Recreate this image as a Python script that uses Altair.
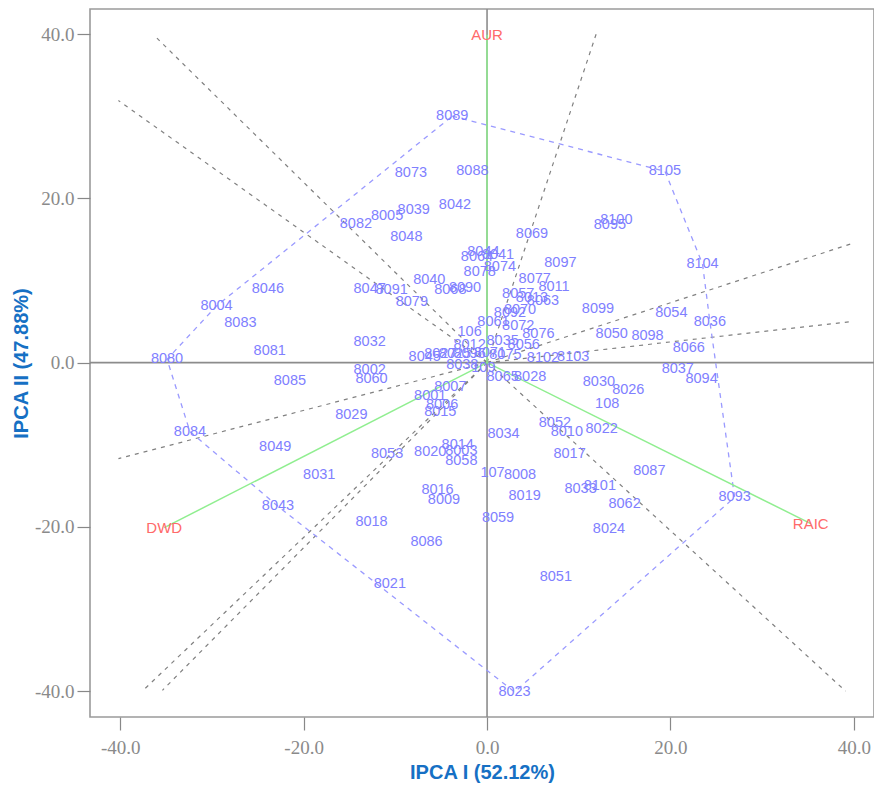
import altair as alt
import pandas as pd

# ---------------- data ----------------
gen_names = [
    "8089", "8073", "8088", "8039", "8042", "8005", "8082", "8048", "8069", "8097",
    "8044", "8064", "8041", "8078", "8074", "8077", "8011", "8040", "8047", "8091",
    "8068", "8090", "8079", "8057", "8063", "8013", "8070", "8092", "8061", "8072",
    "8076", "106", "8032", "8012", "8035", "8056", "8045", "8027", "8025", "8096",
    "8071", "8075", "8038", "109", "8102", "8103", "8002", "8060", "8007", "8001",
    "8006", "8015", "8029", "8065", "8028", "8034", "8052", "8010", "8053", "8020",
    "8014", "8003", "8058", "8017", "107", "8008", "8016", "8009", "8019", "8059",
    "8018", "8086", "8050", "8098", "8066", "8037", "8094", "8030", "8026", "108",
    "8022", "8087", "8033", "8101", "8062", "8024", "8093", "8105", "8100", "8095",
    "8104", "8099", "8054", "8036", "8046", "8004", "8083", "8081", "8080", "8085",
    "8084", "8049", "8031", "8043", "8021", "8051", "8023",
]
gen_x = [
    -3.8, -8.3, -1.6, -8.0, -3.5, -10.9, -14.3, -8.8, 4.9, 8.0,
    -0.4, -1.1, 1.2, -0.8, 1.4, 5.2, 7.3, -6.3, -12.8, -10.4,
    -4.0, -2.4, -8.2, 3.4, 6.1, 4.9, 3.6, 2.5, 0.7, 3.4,
    5.6, -1.9, -12.8, -1.9, 1.7, 4.0, -6.8, -5.1, -3.5, -1.9,
    0.3, 2.0, -2.7, -0.4, 6.1, 9.4, -12.8, -12.6, -4.0, -6.2,
    -4.9, -5.1, -14.8, 1.7, 4.7, 1.8, 7.4, 8.7, -10.9, -6.2,
    -3.2, -2.8, -2.8, 9.0, 0.6, 3.6, -5.4, -4.7, 4.1, 1.2,
    -12.6, -6.6, 13.6, 17.5, 22.0, 20.8, 23.4, 12.2, 15.4, 13.1,
    12.5, 17.7, 10.2, 12.3, 15.0, 13.3, 27.0, 19.4, 14.1, 13.4,
    23.5, 12.1, 20.1, 24.3, -23.9, -29.5, -26.9, -23.7, -34.9, -21.5,
    -32.4, -23.1, -18.3, -22.8, -10.6, 7.5, 3.0,
]
gen_y = [
    30.0, 23.1, 23.3, 18.6, 19.2, 17.9, 16.9, 15.3, 15.7, 12.1,
    13.5, 12.9, 13.1, 11.0, 11.6, 10.2, 9.2, 10.1, 9.0, 8.8,
    8.8, 9.1, 7.4, 8.4, 7.5, 7.9, 6.4, 6.0, 5.0, 4.5,
    3.5, 3.7, 2.5, 2.2, 2.6, 2.2, 0.7, 1.1, 1.0, 1.1,
    1.2, 0.9, -0.25, -0.6, 0.6, 0.7, -0.85, -2.0, -3.0, -4.1,
    -5.2, -6.0, -6.4, -1.8, -1.8, -8.7, -7.4, -8.4, -11.1, -10.9,
    -10.0, -10.8, -12.0, -11.1, -13.5, -13.7, -15.5, -16.7, -16.3, -18.9,
    -19.4, -21.8, 3.5, 3.2, 1.8, -0.8, -2.0, -2.4, -3.3, -5.0,
    -8.1, -13.2, -15.4, -15.0, -17.2, -20.2, -16.4, 23.3, 17.3, 16.8,
    12.0, 6.5, 6.0, 5.0, 8.9, 6.9, 4.8, 1.4, 0.4, -2.3,
    -8.4, -10.3, -13.7, -17.5, -26.9, -26.1, -40.1,
]

env_names = ["AUR", "DWD", "RAIC"]
env_x = [0.0, -35.2, 35.3]
env_y = [39.9, -20.1, -19.6]

# vertices of the dashed polygon (genotypes, in drawing order)
hull_ids = ["8089", "8105", "8104", "8036", "8093", "8023", "8043", "8084", "8080", "8004"]

# ends of the grey dashed rays from the origin
ray_x = [-36.0, -40.2, 11.9, 39.8, 39.8, 39.1, -37.5, -35.4, -40.2]
ray_y = [39.5, 31.9, 40.0, 14.5, 5.0, -40.0, -39.9, -39.9, -11.7]

tick_values = [-40, -20, 0, 20, 40]

# ---------------- tables ----------------
gen = pd.DataFrame({"name": gen_names, "x": gen_x, "y": gen_y})
env = pd.DataFrame({"name": env_names, "x": env_x, "y": env_y,
                    "x0": [0.0] * len(env_names), "y0": [0.0] * len(env_names)})
lookup = {n: (a, b) for n, a, b in zip(gen_names, gen_x, gen_y)}
hull_pts = hull_ids + [hull_ids[0]]
hull = pd.DataFrame({
    "o": list(range(len(hull_pts))),
    "x": [lookup[h][0] for h in hull_pts],
    "y": [lookup[h][1] for h in hull_pts],
})
rays = pd.DataFrame({"x0": [0.0] * len(ray_x), "y0": [0.0] * len(ray_y),
                     "x": ray_x, "y": ray_y})
zero = pd.DataFrame({"v": [0.0]})

xs = alt.Scale(domain=[-43.3, 42.2], nice=False, zero=False)
ys = alt.Scale(domain=[-43.15, 43.05], nice=False, zero=False)

label_expr = "(datum.value < 0 ? '-' : '') + format(abs(datum.value), '.1f')"
title_color = "#1670c4"
axis_common = dict(
    values=tick_values, labelExpr=label_expr, grid=False, domain=False,
    tickSize=13, tickColor="#888888", tickWidth=1.2,
    labelFont="Liberation Serif, DejaVu Serif, serif", labelFontSize=19, labelColor="#8a8a8a",
    titleFont="Liberation Sans Narrow, Liberation Sans, sans-serif",
    titleFontSize=20, titleFontWeight="bold", titleColor=title_color,
)
x_axis = alt.Axis(labelPadding=8, titlePadding=5, **axis_common)
y_axis = alt.Axis(labelPadding=3, titlePadding=3, **axis_common)
XT = "IPCA I (52.12%)"
YT = "IPCA II (47.88%)"


def X(field):
    return alt.X(field, scale=xs, axis=x_axis, title=XT)


def Y(field):
    return alt.Y(field, scale=ys, axis=y_axis, title=YT)


vline = alt.Chart(zero).mark_rule(color="#8c8c8c", strokeWidth=1.6).encode(
    x=X("v:Q")
)
hline = alt.Chart(zero).mark_rule(color="#8c8c8c", strokeWidth=1.6).encode(
    y=Y("v:Q")
)

ray_layer = alt.Chart(rays).mark_rule(
    color="#808080", strokeWidth=1.2, strokeDash=[4, 5]
).encode(x=X("x0:Q"), y=Y("y0:Q"), x2="x:Q", y2="y:Q")

hull_layer = alt.Chart(hull).mark_line(
    color="#9a9aff", strokeWidth=1.3, strokeDash=[5, 5]
).encode(x=X("x:Q"), y=Y("y:Q"), order="o:Q")

vec_layer = alt.Chart(env).mark_rule(color="#90ee90", strokeWidth=1.5).encode(
    x=X("x0:Q"), y=Y("y0:Q"), x2="x:Q", y2="y:Q"
)

gen_text = alt.Chart(gen).mark_text(
    font="Liberation Sans", fontSize=14.5, color="#8080ff", baseline="middle", align="center"
).encode(x=X("x:Q"), y=Y("y:Q"), text="name:N")

env_text = alt.Chart(env).mark_text(
    font="Liberation Sans", fontSize=15, color="#ff6a6a", baseline="middle", align="center"
).encode(x=X("x:Q"), y=Y("y:Q"), text="name:N")

chart = alt.layer(
    vline, hline, ray_layer, hull_layer, vec_layer, gen_text, env_text
).properties(
    width=784, height=708,
    autosize="none",
    padding={"left": 82, "top": 1, "right": 0, "bottom": 74},
).configure_view(
    stroke="#9a9a9a", strokeWidth=1.6
)

chart.save("out.html", embed_options={"renderer": "svg", "actions": False})
